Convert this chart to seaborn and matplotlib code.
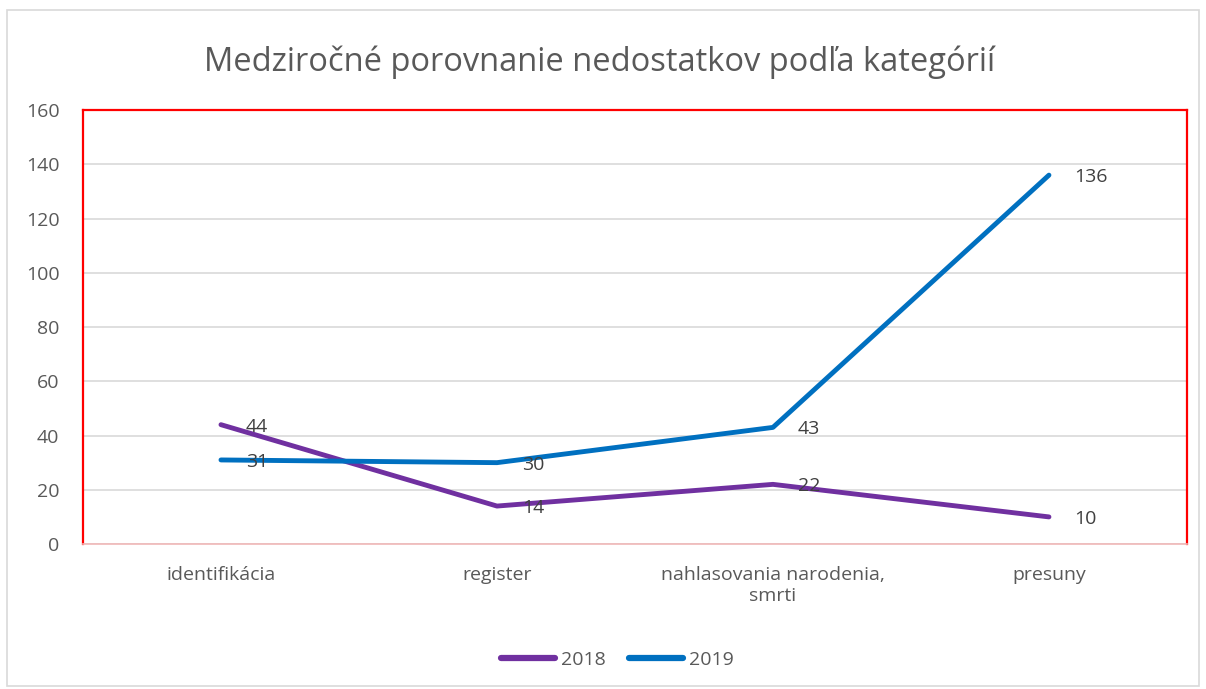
import pandas as pd
import seaborn as sns
import matplotlib.pyplot as plt
from matplotlib.patches import Rectangle

# Data
categories = ['identifikácia', 'register', 'nahlasovania narodenia,\nsmrti', 'presuny']
values_2018 = [44, 14, 22, 10]
values_2019 = [31, 30, 43, 136]
years = ['2018', '2019']
colors = {'2018': '#7030A0', '2019': '#0070C0'}

df = pd.DataFrame({
    'kategoria': categories * 2,
    'pocet': values_2018 + values_2019,
    'rok': [years[0]] * 4 + [years[1]] * 4,
})
df['pos'] = df['kategoria'].map({c: i for i, c in enumerate(categories)})

sns.set_theme(style='white')
plt.rcParams['font.family'] = ['Open Sans', 'DejaVu Sans']
text_color = '#595959'

fig = plt.figure(figsize=(12.06, 6.89), dpi=100)
ax = fig.add_axes([0.0688, 0.2104, 0.9154, 0.6299])

sns.lineplot(data=df, x='pos', y='pocet', hue='rok', palette=colors,
             linewidth=3.5, ax=ax, solid_capstyle='round')

# Data labels to the right of each point
for _, row in df.iterrows():
    ax.annotate(str(row['pocet']), (row['pos'], row['pocet']),
                xytext=(18, -1.5), textcoords='offset points',
                ha='left', va='center', fontsize=14, color='#404040')

ax.set_xlim(-0.5, len(categories) - 0.5)
ax.set_ylim(0, 160)
ax.set_yticks(range(0, 161, 20))
ax.set_xticks(range(len(categories)))
ax.set_xticklabels(categories, fontsize=14, color=text_color)
ax.tick_params(axis='y', labelsize=14, labelcolor=text_color, length=0, pad=17)
ax.tick_params(axis='x', length=0, pad=16)
ax.yaxis.grid(True, color='#D9D9D9', linewidth=1.2)
ax.set_axisbelow(True)
ax.set_xlabel('')
ax.set_ylabel('')

for side in ['left', 'top', 'right']:
    ax.spines[side].set_color('#FF0000')
    ax.spines[side].set_linewidth(1.6)
ax.spines['bottom'].set_color('#F0B8B8')
ax.spines['bottom'].set_linewidth(1.2)

ax.set_title('Medziročné porovnanie nedostatkov podľa kategórií',
             fontsize=23.5, color=text_color, pad=28, x=0.468)

leg = ax.legend(loc='upper center', bbox_to_anchor=(0.484, -0.205), ncol=2,
                frameon=False, fontsize=14, handlelength=2.8, handletextpad=0.3,
                columnspacing=1.2)
for t in leg.get_texts():
    t.set_color(text_color)
for h in leg.get_lines():
    h.set_linewidth(4.5)

# Outer chart border
fig.patches.append(Rectangle((0.006, 0.005), 0.988, 0.98, transform=fig.transFigure,
                             fill=False, edgecolor='#D9D9D9', linewidth=1.2))

fig.savefig('out.png', dpi=100)
